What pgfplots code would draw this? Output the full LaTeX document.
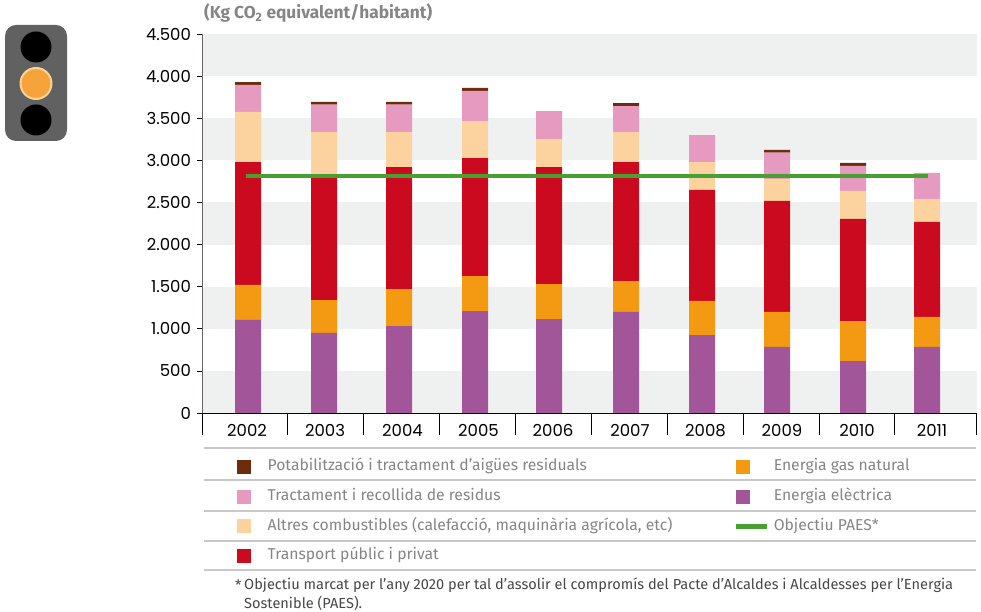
\documentclass[border=0pt]{standalone}
\usepackage{pgfplots}
\usepackage{pgfplotstable}
\usepackage{fontspec}
\pgfplotsset{compat=1.18}
\setmainfont{Fira Sans}
\newfontfamily\numfont{Poppins}
\definecolor{cbrown}{HTML}{6B2D0C}
\definecolor{cpink}{HTML}{E69ABF}
\definecolor{cpeach}{HTML}{FCD39F}
\definecolor{cred}{HTML}{CB0A1F}
\definecolor{corange}{HTML}{F39A12}
\definecolor{cpurple}{HTML}{A3559A}
\definecolor{cgreen}{HTML}{47A02F}
\definecolor{cband}{HTML}{EFF1F0}
\definecolor{ctext}{HTML}{858585}
\definecolor{crule}{HTML}{C8C8C8}
\definecolor{clamp}{HTML}{F5A33A}
\pgfplotstableread{
x    elec gas transp altres residus aigua
248  1105 415 1460   595    320     35
324  950  390 1450   545    325     35
399  1030 440 1450   415    325     35
475  1210 415 1400   440    360     35
549  1115 415 1390   330    335     0
626  1200 365 1415   355    310     35
702  925  405 1320   330    320     0
777  785  415 1320   260    310     35
853  615  475 1215   332    298     35
927  785  355 1130   270    310     0
}\datatable
\pgfplotsset{
  base/.style={
    at={(202pt,199pt)}, anchor=south west, scale only axis,
    width=775pt, height=379pt,
    xmin=202, xmax=977, ymin=0, ymax=4500
  },
  sq/.style={legend image code/.code={\fill[#1] (0pt,-6.5pt) rectangle (13pt,6.5pt);}},
  ln/.style={legend image code/.code={\fill[#1] (0pt,-2pt) rectangle (30pt,2pt);}}
}
\begin{document}
\begin{tikzpicture}
\path (0,0) rectangle (981pt,612pt);
% traffic light
\fill[black!62,rounded corners=11pt] (5pt,471pt) rectangle (67pt,587pt);
\fill[black] (36pt,565pt) circle (15.5pt);
\fill[black] (36pt,492pt) circle (15.5pt);
\fill[corange!45!white] (36pt,528.5pt) circle (16.5pt);
\fill[clamp] (36pt,528.5pt) circle (14.3pt);
% title
\node[anchor=west,inner sep=0pt,text=ctext] at (204pt,599pt) {\fontsize{17.3}{20}\selectfont\bfseries (Kg CO\textsubscript{2} equivalent/habitant)};
% bands
\begin{axis}[base,hide axis]
\fill[cband] (axis cs:202,0) rectangle (axis cs:977,500);
\fill[cband] (axis cs:202,1000) rectangle (axis cs:977,1500);
\fill[cband] (axis cs:202,2000) rectangle (axis cs:977,2500);
\fill[cband] (axis cs:202,3000) rectangle (axis cs:977,3500);
\fill[cband] (axis cs:202,4000) rectangle (axis cs:977,4500);
\end{axis}
% bars
\begin{axis}[base,hide axis,ybar stacked,bar width=26]
\addplot[fill=cpurple,draw=none] table[x=x,y=elec]{\datatable};
\addplot[fill=corange,draw=none] table[x=x,y=gas]{\datatable};
\addplot[fill=cred,draw=none] table[x=x,y=transp]{\datatable};
\addplot[fill=cpeach,draw=none] table[x=x,y=altres]{\datatable};
\addplot[fill=cpink,draw=none] table[x=x,y=residus]{\datatable};
\addplot[fill=cbrown,draw=none] table[x=x,y=aigua]{\datatable};
\end{axis}
% legend rules
\foreach \y/\w in {164/1.8,132/1.2,101/1.2,71/1.2,42/1.2}
  \draw[crule,line width=\w pt] (204pt,\y pt) -- (976pt,\y pt);
% year separators
\begin{axis}[base,
  axis x line=bottom, axis y line=none,
  axis line style={-},
  x axis line style={black},
  xtick={202,287,363,439,515,591,667,743,819,894,976.5},
  xticklabels={},
  tick align=outside,
  major tick length=22pt,
  x tick style={draw=black,line width=0.7pt},
]
\end{axis}
% target, axes, legend
\begin{axis}[base,
  axis x line=bottom, axis y line=left,
  axis line style={-},
  x axis line style={black},
  y axis line style={black!60,line width=1pt},
  xtick={247,325,402.5,478.5,553,630,705.5,782,857,932},
  xticklabels={2002,2003,2004,2005,2006,2007,2008,2009,2010,2011},
  ytick={0,500,...,4500},
  y tick style={black,line width=0.6pt},
  tick align=outside,
  x tick style={draw=none},
  major tick length=5pt,
  y tick label style={font=\numfont\fontsize{16.5}{18}\selectfont,/pgf/number format/assume math mode=true,/pgf/number format/1000 sep={.},xshift=-2.5pt},
  x tick label style={font=\numfont\fontsize{16.5}{18}\selectfont,/pgf/number format/assume math mode=true,yshift=-3pt},
  scaled y ticks=false,
  legend columns=2,
  legend cell align=left,
  legend style={
    at={(0.0452,-0.1225)},anchor=north west,draw=none,fill=none,inner sep=0pt,
    font=\fontsize{15.7}{18}\selectfont,
    text=ctext,
    nodes={inner sep=0pt,text height=11pt,text depth=3pt},
    /tikz/row sep=15.7pt,
    /tikz/column 1/.style={column sep=17pt},
    /tikz/column 2/.style={column sep=64pt},
    /tikz/column 3/.style={column sep=7pt},
  },
]
\addlegendimage{sq=cbrown}\addlegendentry{Potabilització i tractament d’aigües residuals}
\addlegendimage{sq=corange}\addlegendentry{Energia gas natural}
\addlegendimage{sq=cpink}\addlegendentry{Tractament i recollida de residus}
\addlegendimage{sq=cpurple}\addlegendentry{Energia elèctrica}
\addlegendimage{sq=cpeach}\addlegendentry{Altres combustibles (calefacció, maquinària agrícola, etc)}
\addlegendimage{ln=cgreen}\addlegendentry{Objectiu PAES*}
\addlegendimage{sq=cred}\addlegendentry{Transport públic i privat}
\addplot[cgreen,line width=4pt,forget plot] coordinates {(246,2815) (928,2815)};
\end{axis}
% footnote
\node[anchor=west,inner sep=0pt,text=black!72] at (235pt,26.5pt) {\fontsize{14.57}{16}\selectfont *};
\node[anchor=west,inner sep=0pt,text=black!72] at (244pt,26.5pt) {\fontsize{14.57}{16}\selectfont Objectiu marcat per l’any 2020 per tal d’assolir el compromís del Pacte d’Alcaldes i Alcaldesses per l’Energia};
\node[anchor=west,inner sep=0pt,text=black!72] at (244pt,8.5pt) {\fontsize{14.57}{16}\selectfont Sostenible (PAES).};
\end{tikzpicture}
\end{document}
